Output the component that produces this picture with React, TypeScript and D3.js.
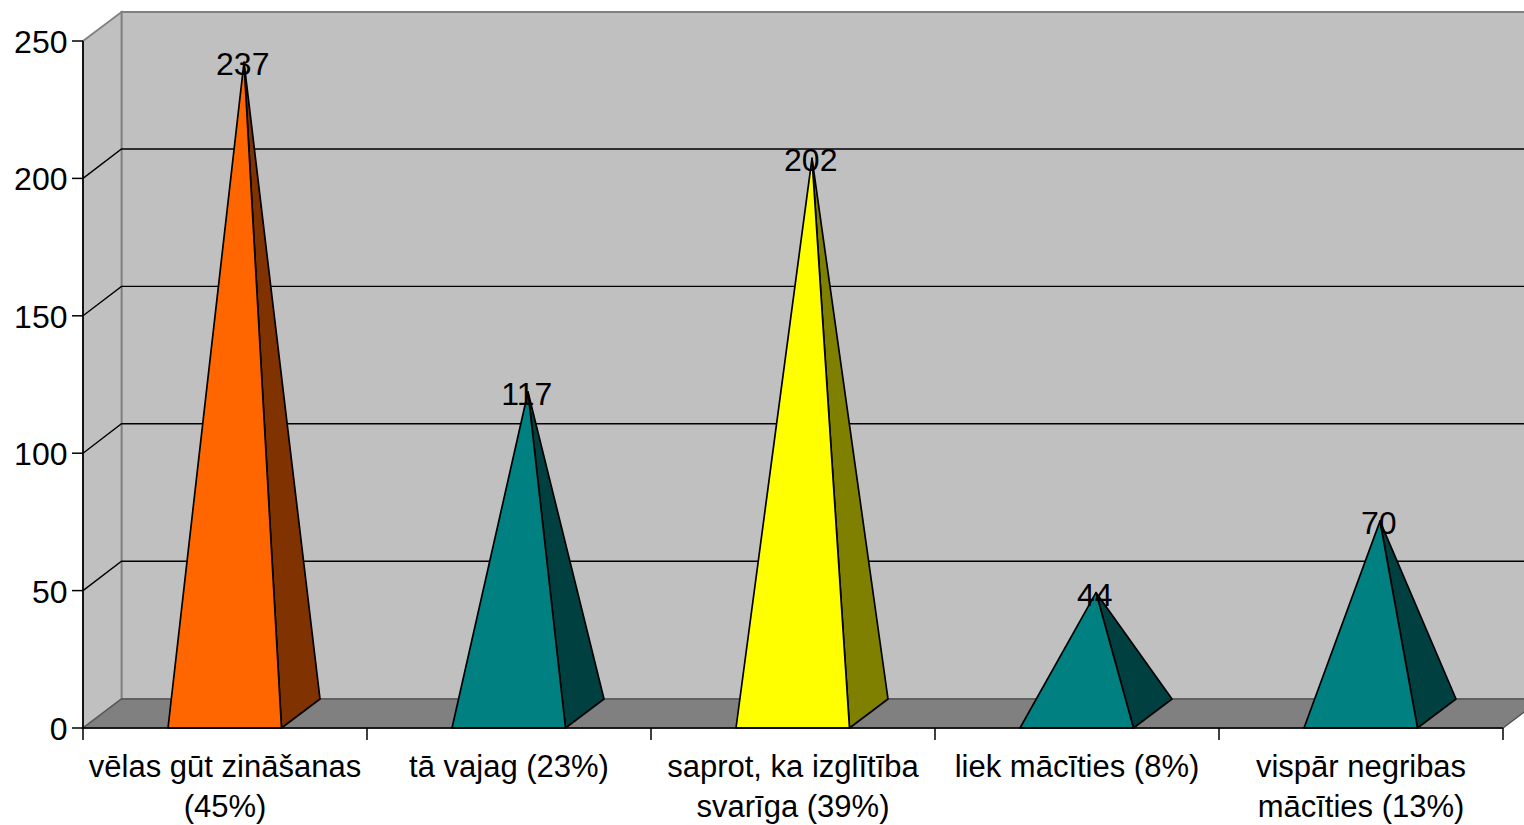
import React from "react";
import * as d3 from "d3";

const categories = ["cat1", "cat2", "cat3", "cat4", "cat5"];
const labelLines = [
  ["vēlas gūt zināšanas", "(45%)"],
  ["tā vajag (23%)"],
  ["saprot, ka izglītība", "svarīga (39%)"],
  ["liek mācīties (8%)"],
  ["vispār negribas", "mācīties (13%)"],
];
const values = [237, 117, 202, 44, 70];
const frontColors = ["#ff6600", "#008080", "#ffff00", "#008080", "#008080"];
const sideColors = ["#803300", "#004040", "#808000", "#004040", "#004040"];
const yTicks = [0, 50, 100, 150, 200, 250];

const W = 1524, H = 825;
const DX = 38.5, DY = -29;
const x = d3.scaleBand<string>().domain(categories).range([83, 1503]).paddingInner(0).paddingOuter(0);
const y = d3.scaleLinear().domain([0, 250]).range([728, 41]);
const barW = 113.5;
const FONT = "'Liberation Sans', Arial, sans-serif";

export default function App() {
  const y0 = y(0);
  const xEnd = x.range()[1];
  const xStart = x.range()[0];
  const ticksX = [...categories.map((c) => x(c) as number), xEnd];
  const line = d3.line();
  return (
    <svg width={W} height={H} style={{ position: "absolute", left: 0, top: 0, background: "#fff" }} fontFamily={FONT}>
      {/* back wall */}
      <path d={line([[xStart + DX, y(250) + DY], [xEnd + DX, y(250) + DY], [xEnd + DX, y0 + DY], [xStart + DX, y0 + DY]]) + "Z"} fill="#c0c0c0" stroke="#808080" strokeWidth={1.8} />
      {/* side wall */}
      <path d={line([[xStart, y(250)], [xStart + DX, y(250) + DY], [xStart + DX, y0 + DY], [xStart, y0]]) + "Z"} fill="#c0c0c0" stroke="#808080" strokeWidth={1.8} />
      {/* floor */}
      <path d={line([[xStart, y0], [xStart + DX, y0 + DY], [xEnd + DX, y0 + DY], [xEnd, y0]]) + "Z"} fill="#808080" stroke="#555" strokeWidth={1.3} />
      {/* gridlines */}
      {yTicks.filter((t) => t !== 0 && t !== 250).map((t) => (
        <path key={t} d={line([[xStart, y(t)], [xStart + DX, y(t) + DY - 0.4], [xEnd + DX, y(t) + DY - 0.4]]) as string} fill="none" stroke="#000" strokeWidth={1.4} />
      ))}
      {/* pyramids */}
      {categories.map((c, i) => {
        const cx = (x(c) as number) + x.bandwidth() / 2 - 0.25;
        const l = cx - barW / 2, r = cx + barW / 2;
        const apex: [number, number] = [cx + DX / 2, y(values[i]) + DY / 2];
        return (
          <g key={c} stroke="#000" strokeWidth={1.7} strokeLinejoin="round">
            <path d={line([[r, y0], [r + DX, y0 + DY], apex]) + "Z"} fill={sideColors[i]} />
            <path d={line([[l, y0], [r, y0], apex]) + "Z"} fill={frontColors[i]} />
          </g>
        );
      })}
      {/* axes */}
      <path d={`M${xStart},${y(250)}V${y0}H${xEnd}`} fill="none" stroke="#000" strokeWidth={1.7} />
      {yTicks.map((t) => (
        <g key={t}>
          <line x1={xStart - 11} x2={xStart} y1={y(t)} y2={y(t)} stroke="#000" strokeWidth={1.5} />
          <text x={xStart - 15.5} y={y(t) + 12} textAnchor="end" fontSize={32} fill="#000">{t}</text>
        </g>
      ))}
      {ticksX.map((t, i) => (
        <line key={i} x1={t} x2={t} y1={y0} y2={y0 + 12} stroke="#000" strokeWidth={1.5} />
      ))}
      {/* category labels */}
      {categories.map((c, i) => (
        <text key={c} textAnchor="middle" fontSize={31} fill="#000">
          {labelLines[i].map((ln, j) => (
            <tspan key={j} x={(x(c) as number) + x.bandwidth() / 2} y={777 + j * 40}>{ln}</tspan>
          ))}
        </text>
      ))}
      {/* data labels */}
      {categories.map((c, i) => {
        const cx = (x(c) as number) + x.bandwidth() / 2 + DX / 2;
        return (
          <text key={c} x={cx - 1.5} y={y(values[i]) + DY / 2 + 13} textAnchor="middle" fontSize={32} fill="#000">{values[i]}</text>
        );
      })}
    </svg>
  );
}
